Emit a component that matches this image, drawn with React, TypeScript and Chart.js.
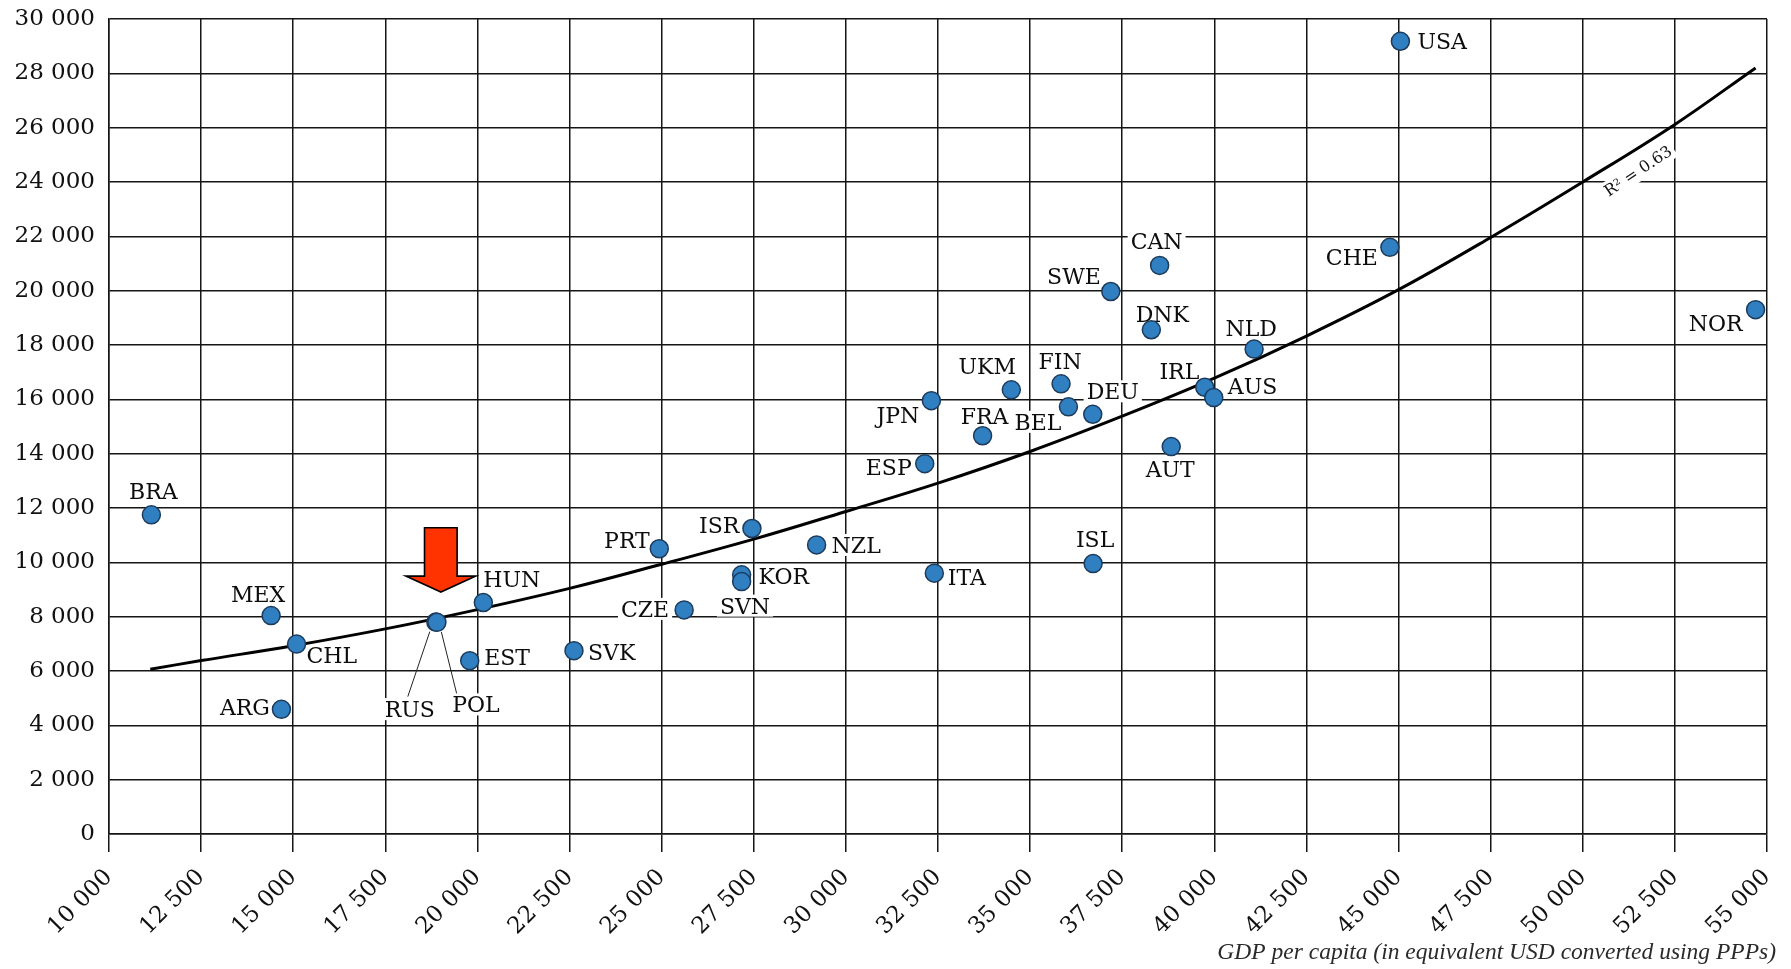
import React, { useEffect, useRef } from 'react';
import { Chart, registerables } from 'chart.js';

Chart.register(...registerables);

// ---- Data ----
const countries = ['BRA', 'MEX', 'CHL', 'ARG', 'RUS', 'POL', 'HUN', 'EST', 'SVK', 'PRT', 'CZE', 'ISR', 'KOR', 'SVN', 'NZL', 'ITA', 'ESP', 'JPN', 'UKM', 'FRA', 'FIN', 'BEL', 'DEU', 'AUT', 'ISL', 'IRL', 'AUS', 'NLD', 'DNK', 'SWE', 'CAN', 'CHE', 'USA', 'NOR'];
const gdpPerCapita = [11150, 14400, 15090, 14680, 18870, 18900, 20160, 19790, 22620, 24935, 25610, 27450, 27170, 27170, 29205, 32400, 32140, 32320, 34490, 33710, 35840, 36040, 36700, 38830, 36710, 39740, 39985, 41080, 38290, 37190, 38515, 44765, 45050, 54690];
const yValues = [11750, 8040, 6990, 4590, 7800, 7790, 8520, 6380, 6750, 10500, 8250, 11245, 9540, 9290, 10640, 9600, 13630, 15950, 16350, 14660, 16570, 15725, 15450, 14260, 9955, 16445, 16065, 17850, 18560, 19970, 20930, 21595, 29180, 19300];

// trend curve
const trendX = [11120, 12500, 15000, 17500, 20000, 22500, 25000, 27500, 30000, 32500, 35000, 37500, 40000, 42500, 45000, 47500, 50000, 52500, 54690];
const trendY = [6066, 6383, 6930, 7550, 8260, 9040, 9930, 10853, 11871, 12915, 14081, 15380, 16780, 18330, 20036, 21960, 24002, 26120, 28200];
const trendLabel = 'R² = 0.63';
const trendLabelAt = { x: 51500, y: 24400 };

const xTickValues = [10000, 12500, 15000, 17500, 20000, 22500, 25000, 27500, 30000, 32500, 35000, 37500, 40000, 42500, 45000, 47500, 50000, 52500, 55000];
const yTickValues = [0, 2000, 4000, 6000, 8000, 10000, 12000, 14000, 16000, 18000, 20000, 22000, 24000, 26000, 28000, 30000];
const xAxisTitle = 'GDP per capita (in equivalent USD converted using PPPs)';

// ---- Label layout (align, dx, dy relative to point centre) ----
const labelLayout: Record<string, [string, number, number]> = {
  BRA: ['c', 2, -24], MEX: ['c', -13, -22], CHL: ['l', 10, 11], ARG: ['r', -11.5, -2],
  RUS: ['c', -26, 87], POL: ['c', 39, 82], HUN: ['l', 0, -23.5], EST: ['l', 14.5, -3.5],
  SVK: ['l', 14, 1.5], PRT: ['r', -9.5, -8.5], CZE: ['r', -15, -1], ISR: ['r', -12.6, -4],
  KOR: ['l', 17, 1], SVN: ['c', 3.4, 24], NZL: ['l', 15, 0], ITA: ['l', 13.4, 4],
  ESP: ['r', -13, 3], JPN: ['r', -12, 14], UKM: ['c', -24, -23.5], FRA: ['c', 2, -20],
  FIN: ['c', -1, -22.5], BEL: ['r', -7, 15], DEU: ['c', 20, -23], AUT: ['c', -1, 22],
  ISL: ['c', 2, -25], IRL: ['r', -5.5, -16], AUS: ['l', 14, -12], NLD: ['c', -3, -21],
  DNK: ['c', 11, -16], SWE: ['r', -10, -16], CAN: ['c', -3, -24], CHE: ['r', -12, 10],
  USA: ['l', 17, 0], NOR: ['r', -13, 13],
};

const SERIF = "'DejaVu Serif', serif";
const LABEL_SIZE = 22;
const fmt = (v: number) => String(v).replace(/\B(?=(\d{3})+(?!\d))/g, ' ');

const labelsPlugin = {
  id: 'countryLabels',
  beforeDatasetsDraw(chart: any) {
    const { ctx, scales } = chart;
    const xs = scales.x, ys = scales.y;
    ctx.save();
    ctx.font = `${LABEL_SIZE}px ${SERIF}`;
    ctx.textBaseline = 'alphabetic';
    const cap = LABEL_SIZE * 0.729;
    countries.forEach((c, i) => {
      const px = xs.getPixelForValue(gdpPerCapita[i]);
      const py = ys.getPixelForValue(yValues[i]);
      const [a, dx, dy] = labelLayout[c];
      const w = ctx.measureText(c).width;
      let left = px + dx - w / 2;
      if (a === 'l') left = px + dx;
      if (a === 'r') left = px + dx - w;
      const cy = py + dy;
      ctx.fillStyle = '#ffffff';
      ctx.fillRect(left - 3, cy - cap / 2 - 3, w + 6, cap + 6);
      ctx.fillStyle = '#0d0d0d';
      ctx.fillText(c, left, cy + cap / 2);
    });
    // leader lines for RUS / POL
    const leaders: [string, number, number, number, number][] = [
      ['RUS', -6, 9.5, -28, 74.5],
      ['POL', 4.4, 9.5, 19.7, 71],
    ];
    ctx.strokeStyle = '#222';
    ctx.lineWidth = 1;
    leaders.forEach(([c, x1, y1, x2, y2]) => {
      const i = countries.indexOf(c);
      const px = xs.getPixelForValue(gdpPerCapita[i]);
      const py = ys.getPixelForValue(yValues[i]);
      ctx.beginPath();
      ctx.moveTo(px + x1, py + y1);
      ctx.lineTo(px + x2, py + y2);
      ctx.stroke();
    });
    // trend label
    const tx = xs.getPixelForValue(trendLabelAt.x);
    const ty = ys.getPixelForValue(trendLabelAt.y);
    ctx.translate(tx, ty);
    ctx.rotate((-34 * Math.PI) / 180);
    ctx.font = `16px ${SERIF}`;
    const tw = ctx.measureText(trendLabel).width;
    ctx.fillStyle = '#ffffff';
    ctx.fillRect(-tw / 2 - 3, -10, tw + 6, 20);
    ctx.fillStyle = '#141414';
    ctx.textAlign = 'center';
    ctx.textBaseline = 'middle';
    ctx.fillText(trendLabel, 0, 1);
    ctx.restore();
  },
  afterDatasetsDraw(chart: any) {
    const { ctx, scales } = chart;
    const i = countries.indexOf('RUS');
    const px = scales.x.getPixelForValue(gdpPerCapita[i]);
    const py = scales.y.getPixelForValue(yValues[i]);
    const tipX = px + 5, tipY = py - 30;
    const headH = 16, headHalf = 35, bodyHalf = 16.3, bodyH = 48.4;
    ctx.save();
    ctx.beginPath();
    ctx.moveTo(tipX, tipY);
    ctx.lineTo(tipX - headHalf, tipY - headH);
    ctx.lineTo(tipX - bodyHalf, tipY - headH);
    ctx.lineTo(tipX - bodyHalf, tipY - headH - bodyH);
    ctx.lineTo(tipX + bodyHalf, tipY - headH - bodyH);
    ctx.lineTo(tipX + bodyHalf, tipY - headH);
    ctx.lineTo(tipX + headHalf, tipY - headH);
    ctx.closePath();
    ctx.fillStyle = '#ff3300';
    ctx.fill();
    ctx.strokeStyle = '#000';
    ctx.lineWidth = 1.6;
    ctx.lineJoin = 'miter';
    ctx.stroke();
    // axis title
    ctx.font = `italic 23.5px 'Liberation Serif', serif`;
    ctx.fillStyle = '#2a2a2a';
    ctx.textAlign = 'right';
    ctx.textBaseline = 'middle';
    ctx.fillText(xAxisTitle, 1776, 953);
    ctx.restore();
  },
};

export default function App() {
  const ref = useRef<HTMLCanvasElement | null>(null);
  useEffect(() => {
    if (!ref.current) return;
    const tickFont = { family: SERIF, size: 23 };
    const chart = new Chart(ref.current, {
      type: 'scatter',
      data: {
        datasets: [
          {
            type: 'scatter',
            data: countries.map((_, i) => ({ x: gdpPerCapita[i], y: yValues[i] })),
            backgroundColor: '#2f7fc1',
            borderColor: '#1d3b5c',
            borderWidth: 1.5,
            pointRadius: 9,
          },
          {
            type: 'line',
            data: trendX.map((v, i) => ({ x: v, y: trendY[i] })),
            borderColor: '#000',
            borderWidth: 3,
            pointRadius: 0,
            fill: false,
            tension: 0.4,
          } as any,
        ],
      },
      options: {
        responsive: false,
        animation: false,
        devicePixelRatio: 1,
        layout: { padding: { top: 19, right: 24, left: 0, bottom: 0 } },
        plugins: { legend: { display: false }, tooltip: { enabled: false }, title: { display: false } },
        scales: {
          x: {
            type: 'linear',
            min: 10000,
            max: 55000,
            afterBuildTicks: (s: any) => { s.ticks = xTickValues.map((v) => ({ value: v })); },
            afterFit: (s: any) => { s.height = 135; s.paddingLeft = 0; s.paddingRight = 0; },
            ticks: { autoSkip: false, maxRotation: 45, minRotation: 45, padding: 12, font: tickFont, color: '#111', callback: (v: any) => fmt(Number(v)) },
            grid: { color: '#151515', lineWidth: 1.5, tickLength: 18, tickColor: '#151515', tickWidth: 1.5 },
            border: { color: '#151515', width: 1.5 },
          },
          y: {
            type: 'linear',
            min: 0,
            max: 30000,
            afterBuildTicks: (s: any) => { s.ticks = yTickValues.map((v) => ({ value: v })); },
            afterFit: (s: any) => { s.width = 109; s.paddingTop = 0; s.paddingBottom = 0; },
            ticks: { padding: 14, font: tickFont, color: '#111', callback: (v: any) => fmt(Number(v)) },
            grid: { color: '#151515', lineWidth: 1.5, drawTicks: false },
            border: { color: '#151515', width: 1.5 },
          },
        },
      },
      plugins: [labelsPlugin],
    } as any);
    return () => chart.destroy();
  }, []);
  return (
    <div style={{ position: 'absolute', left: 0, top: 0, width: 1791, height: 969, background: '#fff' }}>
      <canvas ref={ref} width={1791} height={969} style={{ display: 'block', width: 1791, height: 969 }} />
    </div>
  );
}
